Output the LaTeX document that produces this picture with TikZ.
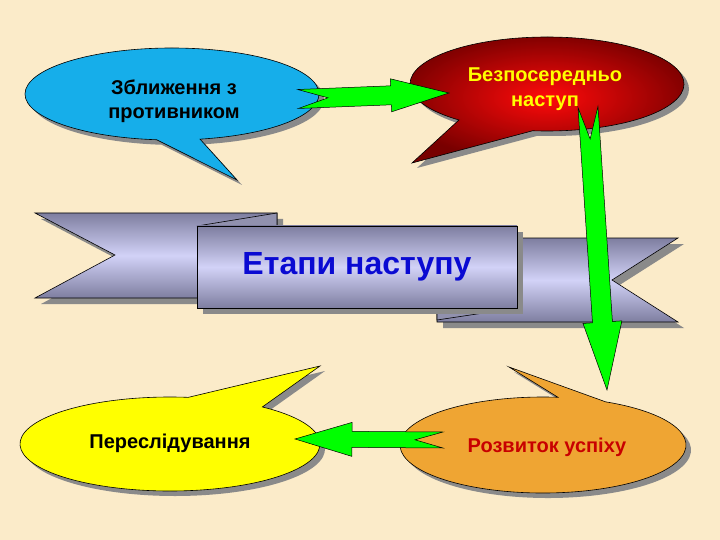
\documentclass[tikz,border=0pt]{standalone}
\usepackage{fontspec}
\setmainfont{Liberation Sans}
\usepackage{tikz}
\usetikzlibrary{
  calc,
  positioning,
  shadows
}
\definecolor{bgcream}{HTML}{FBEBC9}
\definecolor{callblue}{HTML}{16AEEA}
\definecolor{callred}{HTML}{FF0A0A}
\definecolor{calldark}{HTML}{780000}
\definecolor{callorange}{HTML}{EFA533}
\definecolor{callyellow}{HTML}{FFFF00}
\definecolor{ribbondark}{HTML}{7E7EA0}
\definecolor{ribbonlight}{HTML}{D2D2F7}
\definecolor{shadowgray}{HTML}{8A8A8A}
\definecolor{arrowgreen}{HTML}{00FF00}
\definecolor{titleblue}{HTML}{0A0AD2}
\definecolor{textred}{HTML}{C80000}

% speech bubble: style, centre, x radius, y radius, base angle, base angle+360, tip
\newcommand{\bubble}[7]{%
  \fill[shadowgray, shift={(5,5)}] ($(#2)+(#5:#3 and #4)$)
    arc[start angle=#5, end angle=#6, x radius=#3, y radius=#4] -- (#7) -- cycle;
  \path[#1] ($(#2)+(#5:#3 and #4)$)
    arc[start angle=#5, end angle=#6, x radius=#3, y radius=#4] -- (#7) -- cycle;
}

% notched block arrow: start, end, shaft half width, head half width, head length, notch
\newcommand{\notcharrow}[6]{%
  \coordinate (hb) at ($(#2)!#5!(#1)$);
  \coordinate (nt) at ($(#1)!#6!(#2)$);
  \draw[greenarrow] ($(#1)!#3!90:(#2)$) -- ($(hb)!#3!90:(#2)$)
    -- ($(hb)!#4!90:(#2)$) -- (#2) -- ($(hb)!#4!-90:(#2)$)
    -- ($(hb)!#3!-90:(#2)$) -- ($(#1)!#3!-90:(#2)$) -- (nt) -- cycle;
}

\begin{document}
\begin{tikzpicture}[
  x=1pt, y=-1pt,
  font=\bfseries\fontsize{20}{24.5}\selectfont,
  bubbleline/.style={draw=black, line width=0.6pt},
  bubbletext/.style={inner sep=0pt, align=center},
  ribbon/.style={
    draw=black, line width=0.6pt,
    top color=ribbondark, bottom color=ribbondark,
    middle color=ribbonlight
  },
  fold/.style={draw=black, line width=0.6pt, fill=ribbondark!85!white},
  ribbonshadow/.style={fill=shadowgray, shift={(6,6)}},
  greenarrow/.style={draw=black, line width=0.5pt, fill=arrowgreen,
    line join=miter},
]

\useasboundingbox[fill=bgcream] (0,0) rectangle (720,540);

% Ribbon ends
\fill[ribbonshadow] (35,213) -- (277,213) -- (277,298) -- (35,298)
  -- (115,255) -- cycle;
\fill[ribbonshadow] (437,238) -- (678,238) -- (612,280) -- (678,322)
  -- (437,322) -- cycle;
\path[ribbon] (35,213) -- (277,213) -- (277,298) -- (35,298)
  -- (115,255) -- cycle;
\path[ribbon] (437,238) -- (678,238) -- (612,280) -- (678,322)
  -- (437,322) -- cycle;
\draw[fold] (197,226) -- (277,213) -- (277,226) -- cycle;
\draw[fold] (437,308) -- (517,308) -- (437,320) -- cycle;

% Banner front
\node[ribbon, minimum width=320pt, minimum height=82pt, inner sep=0pt,
  text=titleblue, font=\bfseries\fontsize{32}{36}\selectfont,
  drop shadow={shadow xshift=6pt, shadow yshift=-6pt,
    fill=shadowgray, opacity=1}] (etapy) at (357,267) {Етапи наступу};

% Bubbles
\bubble{bubbleline, fill=callblue}{172,94}{147}{46}{96}{439}{237,180}
\node[bubbletext, text=black] (zblyzh) at (174,101) {Зближення з\\противником};

\bubble{bubbleline, shading=radial, inner color=callred, outer color=calldark}%
  {547,84}{137}{47}{130}{456}{412,163}
\node[bubbletext, text=callyellow] (bezpos) at (545,89) {Безпосередньо\\наступ};

\bubble{bubbleline, fill=callyellow}{170,444}{150}{47}{308}{637}{320,366}
\node[bubbletext, text=black] (peresl) at (170,443) {Переслідування};

\bubble{bubbleline, fill=callorange}{543,445}{143}{48}{296}{636}{509,367}
\node[bubbletext, text=textred] (rozv) at (547,447) {Розвиток успіху};

% Arrows
\coordinate (a1s) at ($(zblyzh.center)+(124,-2)$);
\coordinate (a1e) at ($(bezpos.center)+(-96,4)$);
\notcharrow{a1s}{a1e}{9.5pt}{16.5pt}{58pt}{30pt}

\coordinate (a2s) at ($(bezpos.center)+(43,18)$);
\coordinate (a2e) at ($(rozv.center)+(60,-57)$);
\notcharrow{a2s}{a2e}{10pt}{19.5pt}{68pt}{32pt}

\coordinate (a3s) at ($(rozv.center)+(-104,-7)$);
\coordinate (a3e) at ($(peresl.center)+(125,-4)$);
\notcharrow{a3s}{a3e}{8pt}{17pt}{57pt}{28pt}

\end{tikzpicture}
\end{document}
